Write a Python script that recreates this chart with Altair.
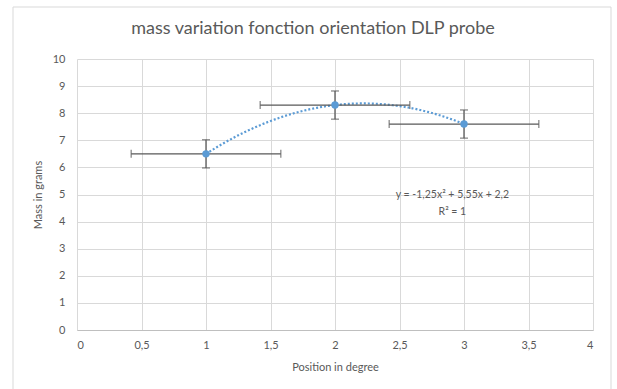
import altair as alt
import pandas as pd

# data
positions = [1, 2, 3]
masses = [6.5, 8.3, 7.6]
mass_err = [0.52, 0.52, 0.52]
pos_err = [0.58, 0.58, 0.58]
x_ticks = [0, 0.5, 1, 1.5, 2, 2.5, 3, 3.5, 4]
y_ticks = [0, 1, 2, 3, 4, 5, 6, 7, 8, 9, 10]
eq_lines = ["y = -1,25x² + 5,55x + 2,2", "R² = 1"]
eq_x = [2.91, 2.91]
eq_y = [4.98, 4.35]

df = pd.DataFrame({
    "x": positions,
    "y": masses,
    "ymin": [m - e for m, e in zip(masses, mass_err)],
    "ymax": [m + e for m, e in zip(masses, mass_err)],
    "xmin": [p - e for p, e in zip(positions, pos_err)],
    "xmax": [p + e for p, e in zip(positions, pos_err)],
})
eq_df = pd.DataFrame({"t": eq_lines, "x": eq_x, "y": eq_y})

BLUE = "#5B9BD5"
GREY = "#595959"
FONT = "Lato"

xscale = alt.Scale(domain=[0, 4], nice=False, zero=False)
yscale = alt.Scale(domain=[0, 10], nice=False)

xaxis = alt.Axis(values=x_ticks, labelExpr="replace(format(datum.value, '~g'), '.', ',')",
                 title="Position in degree", grid=True, ticks=False, labelOverlap=False,
                 domain=True, domainColor="#BFBFBF", labelPadding=9, titlePadding=11)
yaxis = alt.Axis(values=y_ticks, format="d", title="Mass in grams", grid=True, ticks=False,
                 labelOverlap=False, domain=False, labelPadding=12, titlePadding=9)


def X(field):
    return alt.X(field, type="quantitative", scale=xscale, axis=xaxis)


def Y(field):
    return alt.Y(field, type="quantitative", scale=yscale, axis=yaxis)


base = alt.Chart(df)

border = alt.Chart(pd.DataFrame({"a": [0]})).mark_rect(
    fillOpacity=0, stroke="#D9D9D9", strokeWidth=1
).encode(x=alt.value(-64), x2=alt.value(534), y=alt.value(-52), y2=alt.value(340))

trend = base.transform_regression(
    "x", "y", method="poly", order=2, extent=[1, 3]
).mark_line(color=BLUE, strokeDash=[2, 2], strokeWidth=2.2).encode(x=X("x"), y=Y("y"))

vbar = base.mark_rule(color=GREY, strokeWidth=1.3).encode(x=X("x"), y=Y("ymin"), y2="ymax:Q")
hbar = base.mark_rule(color=GREY, strokeWidth=1.3).encode(x=X("xmin"), x2="xmax:Q", y=Y("y"))

vcap_top = base.mark_tick(orient="horizontal", size=8, thickness=1.3, color=GREY).encode(
    x=X("x"), y=Y("ymax"))
vcap_bot = base.mark_tick(orient="horizontal", size=8, thickness=1.3, color=GREY).encode(
    x=X("x"), y=Y("ymin"))
hcap_l = base.mark_tick(orient="vertical", size=8, thickness=1.3, color=GREY).encode(
    x=X("xmin"), y=Y("y"))
hcap_r = base.mark_tick(orient="vertical", size=8, thickness=1.3, color=GREY).encode(
    x=X("xmax"), y=Y("y"))

points = base.mark_circle(size=55, color=BLUE, opacity=1).encode(x=X("x"), y=Y("y"))

eq = alt.Chart(eq_df).mark_text(fontSize=10.5, color=GREY, font=FONT).encode(
    x=X("x"), y=Y("y"), text="t:N")

chart = alt.layer(
    border, trend, vbar, hbar, vcap_top, vcap_bot, hcap_l, hcap_r, points, eq
).properties(
    width=516, height=271,
    title=alt.TitleParams("mass variation fonction orientation DLP probe",
                          fontSize=18, font=FONT, fontWeight="normal", color=GREY,
                          anchor="middle", dx=-22, offset=-31),
    autosize=alt.AutoSizeParams(type="none"),
    padding={"left": 77, "top": 59, "right": 24, "bottom": 59},
).configure_view(stroke=None).configure_axis(
    gridColor="#D9D9D9", gridWidth=1, labelColor=GREY, labelFont=FONT, labelFontSize=11,
    titleColor=GREY, titleFont=FONT, titleFontSize=11, titleFontWeight="normal",
)

chart.save("out.html", embed_options={"renderer": "svg", "actions": False})
